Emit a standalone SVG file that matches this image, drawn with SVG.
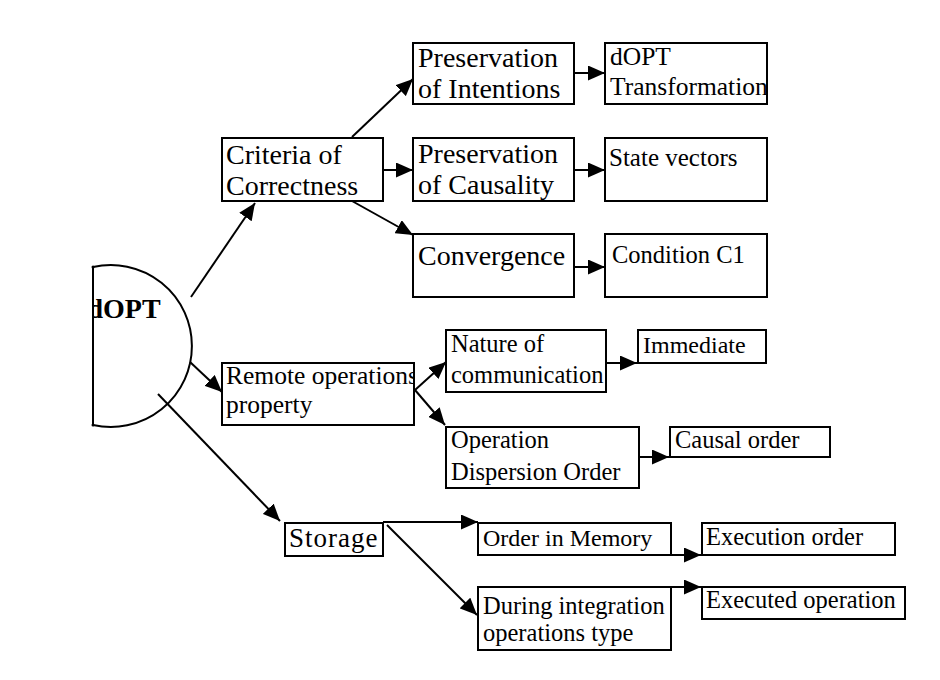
<svg xmlns="http://www.w3.org/2000/svg" width="940" height="680" viewBox="0 0 940 680">
<defs>
<style>
.box{fill:#fff;stroke:#000;stroke-width:2}
.t{font-family:"Liberation Serif","Times New Roman",serif;fill:#000}
.l{stroke:#000;stroke-width:2;fill:none}
</style>
<marker id="ah" markerUnits="userSpaceOnUse" markerWidth="17" markerHeight="15" refX="17" refY="7.5" orient="auto" viewBox="0 0 17 15">
<path d="M0,0 L17,7.5 L0,15 z" fill="#000"/>
</marker>
<clipPath id="cDT"><rect x="606" y="44" width="160" height="59"/></clipPath>
<clipPath id="cRO"><rect x="223" y="364" width="190" height="60"/></clipPath>
<clipPath id="cNC"><rect x="447" y="331" width="158" height="60"/></clipPath>
<clipPath id="cDI"><rect x="479" y="588" width="191" height="61"/></clipPath>
<clipPath id="cD"><rect x="94" y="250" width="120" height="200"/></clipPath>
</defs>
<rect width="940" height="680" fill="#fff"/>

<g id="connectors">
<line class="l" x1="191" y1="297" x2="255" y2="203" marker-end="url(#ah)"/>
<line class="l" x1="352" y1="137" x2="413" y2="79" marker-end="url(#ah)"/>
<line class="l" x1="383" y1="170" x2="413" y2="170" marker-end="url(#ah)"/>
<line class="l" x1="352" y1="201" x2="413" y2="235" marker-end="url(#ah)"/>
<line class="l" x1="574" y1="73" x2="605" y2="73" marker-end="url(#ah)"/>
<line class="l" x1="574" y1="170" x2="605" y2="170" marker-end="url(#ah)"/>
<line class="l" x1="574" y1="267" x2="605" y2="267" marker-end="url(#ah)"/>
<line class="l" x1="190" y1="362" x2="222" y2="392" marker-end="url(#ah)"/>
<line class="l" x1="158" y1="394" x2="280" y2="521" marker-end="url(#ah)"/>
<line class="l" x1="415" y1="390" x2="446" y2="362" marker-end="url(#ah)"/>
<line class="l" x1="415" y1="390" x2="445" y2="425" marker-end="url(#ah)"/>
<line class="l" x1="606" y1="363" x2="637" y2="363" marker-end="url(#ah)"/>
<line class="l" x1="639" y1="457" x2="669" y2="457" marker-end="url(#ah)"/>
<line class="l" x1="383" y1="522" x2="478" y2="522" marker-end="url(#ah)"/>
<line class="l" x1="387" y1="525" x2="477" y2="615" marker-end="url(#ah)"/>
<line class="l" x1="660" y1="555" x2="701" y2="555" marker-end="url(#ah)"/>
<line class="l" x1="660" y1="587" x2="701" y2="587" marker-end="url(#ah)"/>
</g>

<g id="dopt">
<path class="l" d="M93,267 V425 M93,267 A81,81 0 1,1 93,425"/>
<circle cx="93" cy="267" r="1.5" fill="#000"/>
<circle cx="93" cy="425" r="1.5" fill="#000"/>
<text class="t" x="87.5" y="318" font-size="28" font-weight="bold" clip-path="url(#cD)">dOPT</text>
</g>

<g id="criteria">
<rect class="box" x="222" y="138" width="161" height="63"/>
<text class="t" font-size="28"><tspan x="226" y="164">Criteria of</tspan><tspan x="226" y="195">Correctness</tspan></text>
</g>

<g id="intentions">
<rect class="box" x="413" y="43" width="161" height="61"/>
<text class="t" font-size="28"><tspan x="418" y="67">Preservation</tspan><tspan x="418" y="98">of Intentions</tspan></text>
</g>

<g id="transformation">
<rect class="box" x="605" y="43" width="162" height="61"/>
<text class="t" font-size="25.5" clip-path="url(#cDT)"><tspan x="610" y="65">dOPT</tspan><tspan x="610" y="95">Transformation</tspan></text>
</g>

<g id="causality">
<rect class="box" x="413" y="138" width="161" height="63"/>
<text class="t" font-size="28"><tspan x="418" y="163">Preservation</tspan><tspan x="418" y="194">of Causality</tspan></text>
</g>

<g id="state">
<rect class="box" x="605" y="138" width="162" height="63"/>
<text class="t" font-size="25" x="609" y="166">State vectors</text>
</g>

<g id="convergence">
<rect class="box" x="413" y="234" width="161" height="63"/>
<text class="t" font-size="28" x="418" y="265">Convergence</text>
</g>

<g id="condition">
<rect class="box" x="605" y="234" width="162" height="63"/>
<text class="t" font-size="24.5" x="612" y="263">Condition C1</text>
</g>

<g id="remote">
<rect class="box" x="222" y="363" width="192" height="62"/>
<text class="t" font-size="25.5" clip-path="url(#cRO)"><tspan x="226" y="384">Remote operations</tspan><tspan x="226" y="413">property</tspan></text>
</g>

<g id="nature">
<rect class="box" x="446" y="330" width="160" height="62"/>
<text class="t" font-size="24.5" clip-path="url(#cNC)"><tspan x="451" y="352">Nature of</tspan><tspan x="451" y="383">communication</tspan></text>
</g>

<g id="immediate">
<rect class="box" x="638" y="330" width="128" height="33"/>
<text class="t" font-size="24" x="643" y="353">Immediate</text>
</g>

<g id="dispersion">
<rect class="box" x="446" y="427" width="193" height="61"/>
<text class="t" font-size="24.5"><tspan x="451" y="448">Operation</tspan><tspan x="451" y="480">Dispersion Order</tspan></text>
</g>

<g id="causal">
<rect class="box" x="670" y="427" width="160" height="30"/>
<text class="t" font-size="24.5" x="675" y="448">Causal order</text>
</g>

<g id="storage">
<rect class="box" x="285" y="523" width="98" height="33"/>
<text class="t" font-size="27" letter-spacing="1" x="289" y="547">Storage</text>
</g>

<g id="memory">
<rect class="box" x="478" y="523" width="193" height="32"/>
<text class="t" font-size="24" x="483" y="546">Order in Memory</text>
</g>

<g id="execution">
<rect class="box" x="702" y="523" width="193" height="32"/>
<text class="t" font-size="24.5" x="706" y="545">Execution order</text>
</g>

<g id="during">
<rect class="box" x="478" y="587" width="193" height="63"/>
<text class="t" font-size="24.5" clip-path="url(#cDI)"><tspan x="483" y="614">During integration</tspan><tspan x="483" y="641">operations type</tspan></text>
</g>

<g id="executed">
<rect class="box" x="702" y="587" width="203" height="32"/>
<text class="t" font-size="24.5" x="706" y="608">Executed operation</text>
</g>
</svg>
